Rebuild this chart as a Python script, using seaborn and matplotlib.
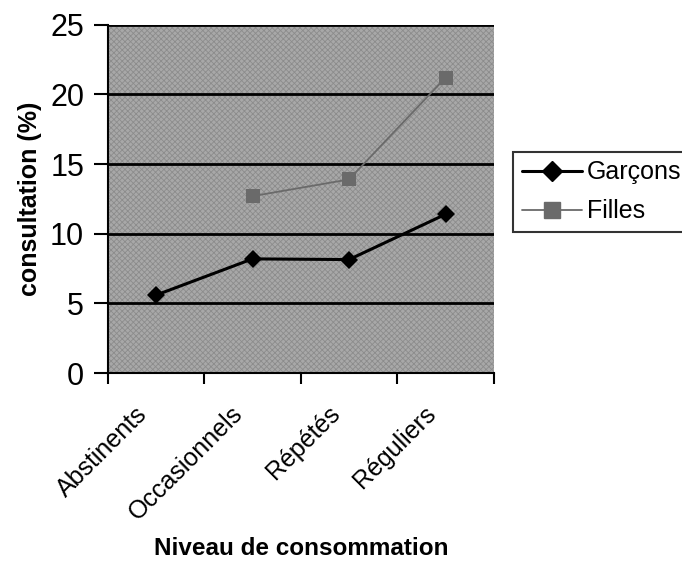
import numpy as np
import pandas as pd
import matplotlib
matplotlib.use("Agg")
import matplotlib.pyplot as plt
import matplotlib.transforms as mtransforms
from matplotlib.lines import Line2D
import seaborn as sns

# data
niveaux = ["Abstinents", "Occasionnels", "Répétés", "Réguliers"]
garcons = [5.6, 8.2, 8.15, 11.4]
filles = [np.nan, 12.7, 13.9, 21.2]

df = pd.DataFrame({
    "pos": list(range(len(niveaux))) * 2,
    "valeur": garcons + filles,
    "groupe": ["Garçons"] * 4 + ["Filles"] * 4,
})

sns.set_style("ticks")
plt.rcParams["font.family"] = ["Liberation Sans", "DejaVu Sans"]
plt.rcParams["text.color"] = "black"
plt.rcParams["axes.labelcolor"] = "black"
plt.rcParams["xtick.color"] = "black"
plt.rcParams["ytick.color"] = "black"
plt.rcParams["axes.edgecolor"] = "black"
plt.rcParams["hatch.linewidth"] = 0.6

fig = plt.figure(figsize=(6.82, 5.62), dpi=100)
ax = fig.add_axes([0.158, 0.336, 0.566, 0.62])
ax.set_facecolor("#a8a8a8")
ax.patch.set_hatch("xxxxxx")
ax.patch.set_edgecolor("#8c8c8c")

sns.lineplot(data=df, x="pos", y="valeur", hue="groupe", style="groupe",
             palette={"Garçons": "black", "Filles": "#6a6a6a"},
             markers={"Garçons": "D", "Filles": "s"},
             dashes={"Garçons": "", "Filles": ""},
             markersize=9, markeredgewidth=0, ax=ax, legend=False)
ax.lines[0].set_linewidth(2.2)
ax.lines[1].set_linewidth(1.3)
ax.lines[1].set_markersize(10)

ax.set_xlim(-0.5, 3.5)
ax.set_ylim(0, 25)
ax.set_yticks([0, 5, 10, 15, 20, 25])
ax.yaxis.grid(True, color="black", linewidth=2)
ax.set_axisbelow(True)

# ticks between categories, category names rotated under the centres
ax.set_xticks(np.arange(-0.5, 4.0, 1.0))
ax.set_xticklabels([])
ax.tick_params(axis="x", which="major", length=8, width=1.5, direction="out")
ax.tick_params(axis="y", length=10, width=1.5, labelsize=22, pad=7)

offset = mtransforms.ScaledTranslation(-13 / 100, -37 / 100, fig.dpi_scale_trans)
for i, name in enumerate(niveaux):
    ax.text(i, 0, name, transform=ax.get_xaxis_transform() + offset,
            rotation=45, rotation_mode="anchor", ha="right", va="center",
            fontsize=18)

for s in ["left", "bottom"]:
    ax.spines[s].set_linewidth(1.5)
for s in ["right", "top"]:
    ax.spines[s].set_visible(False)

ax.set_xlabel("Niveau de consommation", fontsize=17.5, fontweight="bold")
ax.xaxis.set_label_coords(0.5, -0.47)
ax.set_ylabel("consultation (%)", fontsize=18, fontweight="bold", labelpad=6)

handles = [
    Line2D([], [], color="black", marker="D", markersize=10, linewidth=2.2),
    Line2D([], [], color="#6a6a6a", marker="s", markersize=11, linewidth=1.3),
]
leg = fig.legend(handles, ["Garçons", "Filles"], loc="upper left",
                 bbox_to_anchor=(0.752, 0.73), fontsize=18, frameon=True,
                 fancybox=False, edgecolor="black", handlelength=2.4,
                 borderpad=0.35, labelspacing=0.6, handletextpad=0.2,
                 borderaxespad=0)
leg.get_frame().set_linewidth(1.5)

fig.savefig("out.png", dpi=100)
